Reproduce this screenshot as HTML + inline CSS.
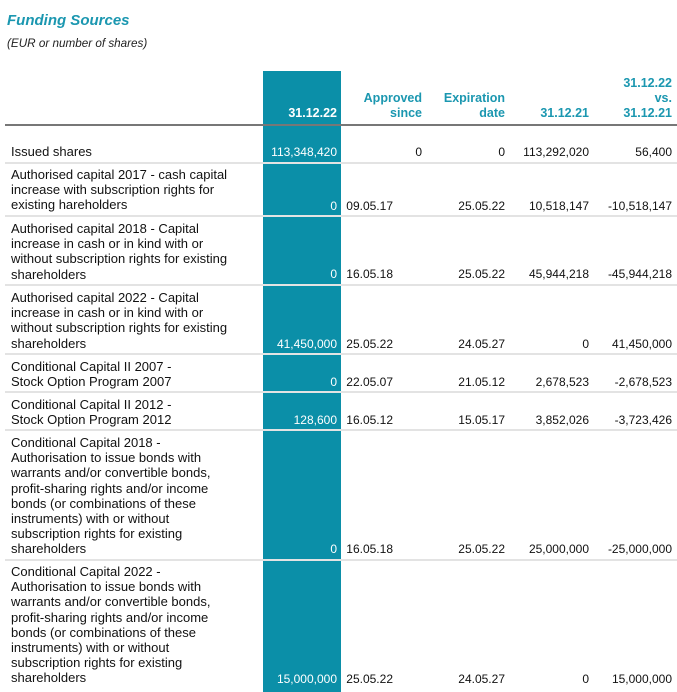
<!DOCTYPE html>
<html><head><meta charset="utf-8"><style>
body{margin:0;width:677px;height:692px;position:relative;background:#fff;font-family:"Liberation Sans",sans-serif;color:#111;overflow:hidden}
.a{position:absolute;white-space:nowrap;font-size:12px;line-height:15.2px}
.l{font-size:13px;margin-top:-1px}
.r{text-align:right}
.h{color:#1b97b0;font-weight:bold;font-size:12.5px}
.sep{position:absolute;left:5px;width:672px;height:2px;background:#e3e3e3}
.w{color:#fff}
</style></head><body>
<div class="a" style="left:7px;top:11px;font-size:15px;line-height:20px;font-weight:bold;font-style:italic;color:#1b97b0">Funding Sources</div>
<div class="a" style="left:7px;top:36px;font-size:11.7px;font-style:italic;color:#222">(EUR or number of shares)</div>
<div style="position:absolute;left:263px;top:71px;width:78px;height:621px;background:#0b8fa8"></div>
<div style="position:absolute;left:5px;top:124px;width:672px;height:2px;background:#777"></div>

<div class="a r h w" style="left:263px;width:74px;top:106px">31.12.22</div>
<div class="a r h" style="left:340px;width:82px;top:91px">Approved<br>since</div>
<div class="a r h" style="left:420px;width:85px;top:91px">Expiration<br>date</div>
<div class="a r h" style="left:500px;width:89px;top:106px">31.12.21</div>
<div class="a r h" style="left:590px;width:82px;top:76px">31.12.22<br>vs.<br>31.12.21</div>

<div class="a l" style="left:11px;top:145px">Issued shares</div>
<div class="a r w" style="left:263px;width:74px;top:145px">113,348,420</div>
<div class="a r" style="left:330px;width:92px;top:145px">0</div>
<div class="a r" style="left:420px;width:85px;top:145px">0</div>
<div class="a r" style="left:500px;width:89px;top:145px">113,292,020</div>
<div class="a r" style="left:590px;width:82px;top:145px">56,400</div>
<div class="sep" style="top:162px"></div>

<div class="a l" style="left:11px;top:168px">Authorised capital 2017 - cash capital<br>increase with subscription rights for<br>existing hareholders</div>
<div class="a r w" style="left:263px;width:74px;top:199px">0</div>
<div class="a r" style="left:330px;width:63px;top:199px">09.05.17</div>
<div class="a r" style="left:420px;width:85px;top:199px">25.05.22</div>
<div class="a r" style="left:500px;width:89px;top:199px">10,518,147</div>
<div class="a r" style="left:590px;width:82px;top:199px">-10,518,147</div>
<div class="sep" style="top:215px"></div>

<div class="a l" style="left:11px;top:222px">Authorised capital 2018 - Capital<br>increase in cash or in kind with or<br>without subscription rights for existing<br>shareholders</div>
<div class="a r w" style="left:263px;width:74px;top:267px">0</div>
<div class="a r" style="left:330px;width:63px;top:267px">16.05.18</div>
<div class="a r" style="left:420px;width:85px;top:267px">25.05.22</div>
<div class="a r" style="left:500px;width:89px;top:267px">45,944,218</div>
<div class="a r" style="left:590px;width:82px;top:267px">-45,944,218</div>
<div class="sep" style="top:284px"></div>

<div class="a l" style="left:11px;top:291px">Authorised capital 2022 - Capital<br>increase in cash or in kind with or<br>without subscription rights for existing<br>shareholders</div>
<div class="a r w" style="left:263px;width:74px;top:337px">41,450,000</div>
<div class="a r" style="left:330px;width:63px;top:337px">25.05.22</div>
<div class="a r" style="left:420px;width:85px;top:337px">24.05.27</div>
<div class="a r" style="left:500px;width:89px;top:337px">0</div>
<div class="a r" style="left:590px;width:82px;top:337px">41,450,000</div>
<div class="sep" style="top:353px"></div>

<div class="a l" style="left:11px;top:360px">Conditional Capital II 2007 -<br>Stock Option Program 2007</div>
<div class="a r w" style="left:263px;width:74px;top:375px">0</div>
<div class="a r" style="left:330px;width:63px;top:375px">22.05.07</div>
<div class="a r" style="left:420px;width:85px;top:375px">21.05.12</div>
<div class="a r" style="left:500px;width:89px;top:375px">2,678,523</div>
<div class="a r" style="left:590px;width:82px;top:375px">-2,678,523</div>
<div class="sep" style="top:391px"></div>

<div class="a l" style="left:11px;top:398px">Conditional Capital II 2012 -<br>Stock Option Program 2012</div>
<div class="a r w" style="left:263px;width:74px;top:413px">128,600</div>
<div class="a r" style="left:330px;width:63px;top:413px">16.05.12</div>
<div class="a r" style="left:420px;width:85px;top:413px">15.05.17</div>
<div class="a r" style="left:500px;width:89px;top:413px">3,852,026</div>
<div class="a r" style="left:590px;width:82px;top:413px">-3,723,426</div>
<div class="sep" style="top:429px"></div>

<div class="a l" style="left:11px;top:436px">Conditional Capital 2018 -<br>Authorisation to issue bonds with<br>warrants and/or convertible bonds,<br>profit-sharing rights and/or income<br>bonds (or combinations of these<br>instruments) with or without<br>subscription rights for existing<br>shareholders</div>
<div class="a r w" style="left:263px;width:74px;top:542px">0</div>
<div class="a r" style="left:330px;width:63px;top:542px">16.05.18</div>
<div class="a r" style="left:420px;width:85px;top:542px">25.05.22</div>
<div class="a r" style="left:500px;width:89px;top:542px">25,000,000</div>
<div class="a r" style="left:590px;width:82px;top:542px">-25,000,000</div>
<div class="sep" style="top:559px"></div>

<div class="a l" style="left:11px;top:565px">Conditional Capital 2022 -<br>Authorisation to issue bonds with<br>warrants and/or convertible bonds,<br>profit-sharing rights and/or income<br>bonds (or combinations of these<br>instruments) with or without<br>subscription rights for existing<br>shareholders</div>
<div class="a r w" style="left:263px;width:74px;top:672px">15,000,000</div>
<div class="a r" style="left:330px;width:63px;top:672px">25.05.22</div>
<div class="a r" style="left:420px;width:85px;top:672px">24.05.27</div>
<div class="a r" style="left:500px;width:89px;top:672px">0</div>
<div class="a r" style="left:590px;width:82px;top:672px">15,000,000</div>
</body></html>
